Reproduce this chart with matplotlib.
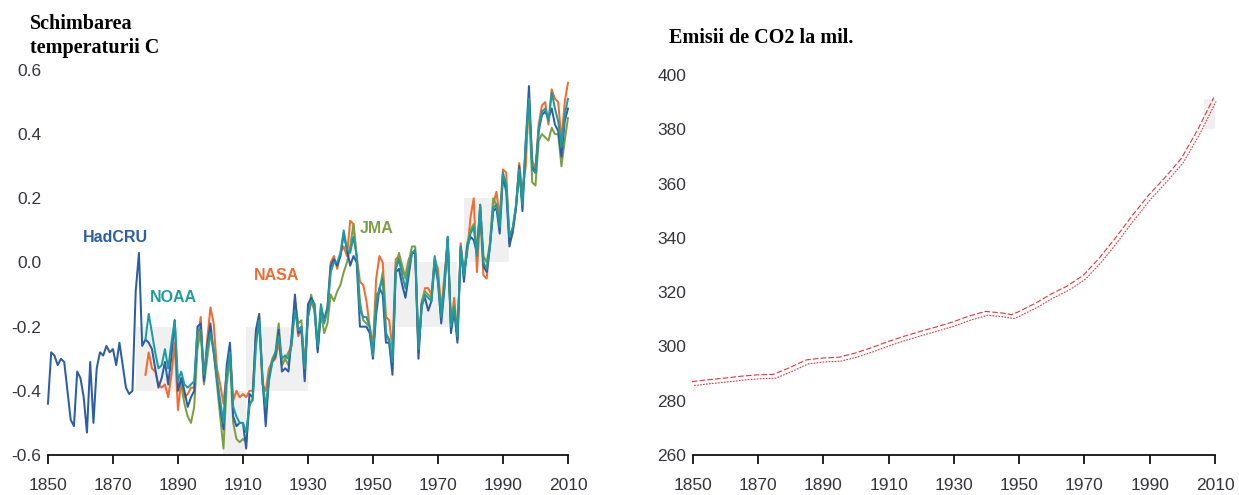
import matplotlib
matplotlib.use('Agg')
import matplotlib.pyplot as plt
import matplotlib.transforms as mtransforms
from matplotlib.patches import Rectangle
from matplotlib import font_manager

# --- date: anomalii de temperatura (grade C) ---
ani_had = list(range(1850, 2011))
had = [
    -0.44, -0.28, -0.29, -0.32, -0.30, -0.31, -0.40, -0.49, -0.51, -0.34,
    -0.36, -0.42, -0.53, -0.31, -0.50, -0.33, -0.28, -0.29, -0.26, -0.28,
    -0.27, -0.32, -0.25, -0.32, -0.39, -0.41, -0.40, -0.09, 0.03, -0.26,
    -0.24, -0.25, -0.27, -0.33, -0.39, -0.36, -0.31, -0.38, -0.29, -0.18,
    -0.40, -0.36, -0.40, -0.45, -0.42, -0.40, -0.20, -0.19, -0.37, -0.26,
    -0.19, -0.28, -0.36, -0.45, -0.52, -0.32, -0.25, -0.48, -0.51, -0.50,
    -0.50, -0.58, -0.41, -0.42, -0.21, -0.16, -0.36, -0.51, -0.36, -0.31,
    -0.29, -0.21, -0.34, -0.33, -0.34, -0.23, -0.10, -0.22, -0.21, -0.37,
    -0.13, -0.11, -0.13, -0.28, -0.14, -0.18, -0.14, -0.01, 0.01, -0.01,
    0.02, 0.09, 0.04, -0.01, 0.02, 0.00, -0.20, -0.20, -0.20, -0.22,
    -0.30, -0.16, -0.08, -0.10, -0.25, -0.25, -0.35, -0.03, -0.02, -0.07,
    -0.11, -0.04, 0.03, 0.03, -0.30, -0.13, -0.11, -0.15, -0.12, 0.00,
    -0.06, -0.19, -0.08, 0.08, -0.22, -0.15, -0.25, 0.05, -0.06, 0.05,
    0.08, 0.07, 0.03, 0.18, -0.01, -0.03, 0.05, 0.16, 0.17, 0.09,
    0.27, 0.22, 0.05, 0.10, 0.17, 0.30, 0.16, 0.37, 0.55, 0.30,
    0.28, 0.41, 0.46, 0.47, 0.45, 0.48, 0.43, 0.41, 0.33, 0.44,
    0.48,
]

ani_noaa = list(range(1880, 2011))
noaa = [
    -0.24, -0.16, -0.22, -0.28, -0.33, -0.32, -0.27, -0.33, -0.25, -0.18,
    -0.37, -0.34, -0.38, -0.39, -0.38, -0.37, -0.21, -0.21, -0.35, -0.27,
    -0.22, -0.27, -0.36, -0.43, -0.50, -0.35, -0.28, -0.45, -0.48, -0.50,
    -0.50, -0.53, -0.44, -0.43, -0.26, -0.18, -0.36, -0.45, -0.37, -0.31,
    -0.28, -0.23, -0.30, -0.29, -0.30, -0.25, -0.15, -0.21, -0.20, -0.33,
    -0.17, -0.12, -0.13, -0.26, -0.13, -0.19, -0.15, -0.03, 0.00, 0.00,
    0.03, 0.10, 0.04, 0.03, 0.08, 0.02, -0.15, -0.17, -0.17, -0.20,
    -0.29, -0.13, -0.08, -0.05, -0.22, -0.24, -0.31, -0.02, 0.01, -0.04,
    -0.08, -0.02, 0.03, 0.04, -0.27, -0.14, -0.10, -0.11, -0.12, 0.02,
    -0.05, -0.17, -0.07, 0.08, -0.20, -0.14, -0.23, 0.05, -0.04, 0.04,
    0.09, 0.11, 0.02, 0.18, 0.00, -0.02, 0.05, 0.17, 0.18, 0.11,
    0.28, 0.24, 0.08, 0.11, 0.18, 0.29, 0.18, 0.38, 0.51, 0.29,
    0.28, 0.42, 0.47, 0.48, 0.44, 0.53, 0.48, 0.44, 0.36, 0.46,
    0.51,
]

ani_nasa = list(range(1880, 2011))
nasa = [
    -0.35, -0.28, -0.33, -0.34, -0.38, -0.39, -0.38, -0.42, -0.35, -0.25,
    -0.46, -0.37, -0.42, -0.41, -0.39, -0.39, -0.25, -0.17, -0.36, -0.24,
    -0.14, -0.19, -0.33, -0.38, -0.44, -0.34, -0.26, -0.43, -0.40, -0.42,
    -0.41, -0.42, -0.40, -0.40, -0.22, -0.17, -0.38, -0.40, -0.33, -0.31,
    -0.30, -0.25, -0.32, -0.30, -0.28, -0.26, -0.12, -0.23, -0.21, -0.31,
    -0.17, -0.12, -0.15, -0.27, -0.15, -0.18, -0.14, 0.00, 0.02, -0.02,
    0.03, 0.05, 0.02, 0.13, 0.12, 0.02, -0.06, -0.07, -0.12, -0.20,
    -0.26, -0.05, 0.02, 0.00, -0.17, -0.18, -0.27, 0.01, 0.02, -0.03,
    -0.04, 0.01, 0.03, 0.03, -0.28, -0.13, -0.08, -0.08, -0.10, 0.01,
    -0.02, -0.15, -0.04, 0.07, -0.19, -0.11, -0.23, 0.06, -0.03, 0.03,
    0.14, 0.20, -0.03, 0.15, -0.04, -0.05, 0.06, 0.18, 0.22, 0.14,
    0.29, 0.28, 0.06, 0.09, 0.17, 0.31, 0.22, 0.30, 0.51, 0.32,
    0.29, 0.43, 0.49, 0.50, 0.43, 0.54, 0.51, 0.50, 0.38, 0.50,
    0.56,
]

ani_jma = list(range(1891, 2011))
jma = [
    -0.38, -0.44, -0.48, -0.50, -0.45, -0.27, -0.21, -0.38, -0.30,
    -0.22, -0.28, -0.38, -0.48, -0.58, -0.38, -0.30, -0.50, -0.55, -0.56,
    -0.55, -0.56, -0.45, -0.42, -0.24, -0.19, -0.37, -0.47, -0.35, -0.30,
    -0.28, -0.19, -0.32, -0.30, -0.32, -0.24, -0.12, -0.19, -0.18, -0.36,
    -0.17, -0.10, -0.15, -0.27, -0.16, -0.22, -0.19, -0.10, -0.12, -0.09,
    -0.07, -0.03, 0.00, 0.05, 0.12, 0.01, -0.12, -0.18, -0.19, -0.20,
    -0.28, -0.10, -0.09, -0.03, -0.22, -0.25, -0.33, -0.02, 0.03, -0.01,
    -0.05, 0.00, 0.05, 0.05, -0.27, -0.12, -0.09, -0.10, -0.11, 0.01,
    -0.04, -0.17, -0.06, 0.06, -0.19, -0.13, -0.24, 0.04, -0.04, 0.06,
    0.10, 0.12, 0.04, 0.17, 0.02, 0.00, 0.06, 0.20, 0.18, 0.13,
    0.27, 0.25, 0.08, 0.10, 0.17, 0.28, 0.19, 0.36, 0.50, 0.25,
    0.24, 0.38, 0.40, 0.39, 0.38, 0.42, 0.40, 0.40, 0.30, 0.38,
    0.45,
]

# zone gri din fundal: (an_start, an_final, jos, sus)
zone_temp = [(1877, 1890, -0.4, -0.2), (1904, 1911, -0.6, -0.4),
             (1911, 1930, -0.4, -0.2), (1953, 1976, -0.2, 0.0),
             (1978, 1992, 0.0, 0.2)]

# --- date: CO2 (ppm) ---
ani_co2 = [1850, 1855, 1860, 1865, 1870, 1875, 1880, 1885, 1890, 1895,
           1900, 1905, 1910, 1915, 1920, 1925, 1930, 1935, 1940, 1945,
           1948, 1950, 1955, 1960, 1965, 1970, 1975, 1980, 1985, 1990,
           1995, 2000, 2005, 2010]
co2 = [286.3, 287.0, 287.6, 288.3, 288.8, 289.0, 291.5, 294.3, 295.0, 295.3,
       296.8, 298.8, 301.0, 303.0, 304.8, 306.5, 308.3, 310.5, 312.2, 311.6,
       311.0, 312.0, 315.0, 318.5, 321.5, 325.5, 332.0, 339.5, 347.5, 355.0,
       361.5, 368.5, 379.0, 391.0]
zone_co2 = [(2006.5, 2010, 380, 391)]

ticks_ani = [1850, 1870, 1890, 1910, 1930, 1950, 1970, 1990, 2010]
ticks_temp = [-0.6, -0.4, -0.2, 0.0, 0.2, 0.4, 0.6]
ticks_co2 = [260, 280, 300, 320, 340, 360, 380, 400]

# fonturi
nume_fonturi = {f.name for f in font_manager.fontManager.ttflist}
if 'Liberation Sans Narrow' in nume_fonturi:
    font_eticheta, marime_eticheta = 'Liberation Sans Narrow', 13.5
else:
    font_eticheta, marime_eticheta = 'Liberation Sans', 11.5

culoare_text = '#34343f'
gri = '#f0f0f0'
fig = plt.figure(figsize=(12.39, 4.95), dpi=100)
ax1 = fig.add_axes([0.0387, 0.0808, 0.4197, 0.7778])
ax2 = fig.add_axes([0.5593, 0.0808, 0.4213, 0.7677])

for ax in (ax1, ax2):
    for s in ('top', 'right', 'left'):
        ax.spines[s].set_visible(False)
    ax.spines['bottom'].set_linewidth(1.3)
    ax.spines['bottom'].set_color('#111111')
    ax.tick_params(axis='x', direction='out', length=6.5, width=1.3,
                   color='#111111', pad=10, labelsize=12.5, labelcolor=culoare_text)
    ax.tick_params(axis='y', length=0, pad=5, labelsize=12.5, labelcolor=culoare_text)
    ax.set_xlim(1850, 2010)
    ax.set_xticks(ticks_ani)
    for lab in ax.get_xticklabels() + ax.get_yticklabels():
        lab.set_family('Liberation Sans')

# grafic stanga
ax1.set_ylim(-0.6, 0.6)
ax1.set_yticks(ticks_temp)
ax1.set_yticklabels(['%.1f' % v for v in ticks_temp], family='Liberation Sans')
for x0, x1, y0, y1 in zone_temp:
    ax1.add_patch(Rectangle((x0, y0), x1 - x0, y1 - y0, facecolor=gri,
                            edgecolor='none', zorder=0))

serii = [
    (ani_nasa, nasa, '#f26b2f'),
    (ani_jma, jma, '#7ba043'),
    (ani_had, had, '#2b5ea8'),
    (ani_noaa, noaa, '#1c9c9e'),
]
for x, y, c in serii:
    ax1.plot(x, y, color=c, lw=1.45, clip_on=False, solid_joinstyle='round')

etichete = [('HadCRU', 1870.9, 0.079, '#2b5ea8'), ('NOAA', 1888.6, -0.11, '#1c9c9e'),
            ('NASA', 1920.2, -0.04, '#f26b2f'), ('JMA', 1951.0, 0.107, '#7ba043')]
for txt, x, y, c in etichete:
    ax1.text(x, y, txt, ha='center', va='center', color=c, fontweight='bold',
             family=font_eticheta, fontsize=marime_eticheta)

# grafic dreapta
ax2.set_ylim(260, 400)
ax2.set_yticks(ticks_co2)
ax2.set_yticklabels([str(v) for v in ticks_co2], family='Liberation Sans')
for x0, x1, y0, y1 in zone_co2:
    ax2.add_patch(Rectangle((x0, y0), x1 - x0, y1 - y0, facecolor=gri,
                            edgecolor='none', zorder=0))

sus = ax2.transData + mtransforms.ScaledTranslation(-0.8 / 72, 1.4 / 72, fig.dpi_scale_trans)
jos = ax2.transData + mtransforms.ScaledTranslation(0.8 / 72, -1.4 / 72, fig.dpi_scale_trans)
ax2.plot(ani_co2, co2, color='#e3343c', lw=0.8, ls=(0, (5, 2)), transform=sus, clip_on=False)
ax2.plot(ani_co2, co2, color='#e3343c', lw=0.8, ls=(0, (1.5, 1.2)), transform=jos, clip_on=False)

# titluri
fig.text(30 / 1239, 1 - 29 / 495, 'Schimbarea', family='Liberation Serif',
         fontweight='bold', fontsize=14.5, va='baseline')
fig.text(30 / 1239, 1 - 53 / 495, 'temperaturii C', family='Liberation Serif',
         fontweight='bold', fontsize=14.5, va='baseline')
fig.text(669 / 1239, 1 - 43 / 495, 'Emisii de CO2 la mil.', family='Liberation Serif',
         fontweight='bold', fontsize=14.5, va='baseline')

fig.savefig('out.png', dpi=100)
